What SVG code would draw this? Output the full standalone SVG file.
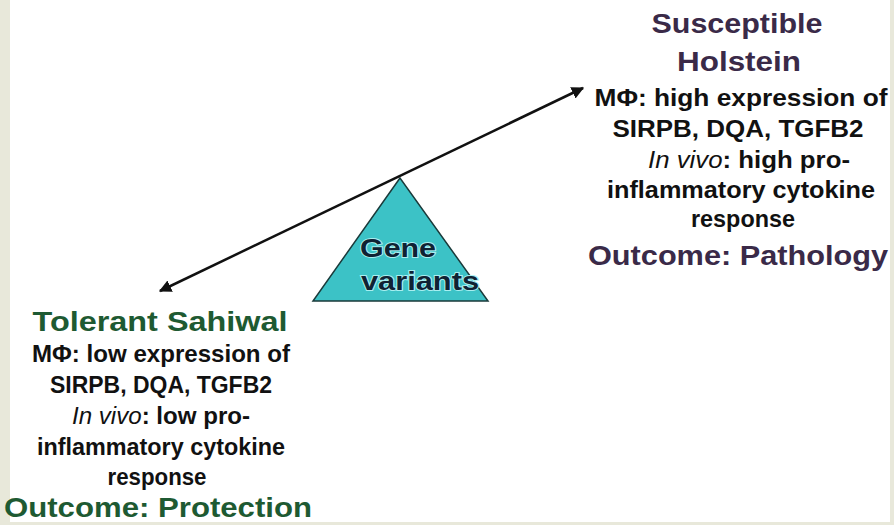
<svg xmlns="http://www.w3.org/2000/svg" width="894" height="525" viewBox="0 0 894 525">
<style>
text{font-family:"Liberation Sans",Arial,sans-serif;font-weight:bold;text-anchor:middle}
.t{font-size:27px}
.b{font-size:24px;fill:#111}
.r{fill:#3a2a48}
.g{fill:#1e5a32}
.gv{font-size:26px;fill:#0f2233;stroke:#a8eef0;stroke-width:2;paint-order:stroke}
.i{font-style:italic;font-weight:normal}
</style>
<defs>
<marker id="ah" viewBox="0 0 10 10" refX="9" refY="5" markerWidth="5" markerHeight="5" orient="auto-start-reverse">
<path d="M0,0 L10,5 L0,10 z" fill="#111"/>
</marker>
</defs>
<rect width="894" height="525" fill="#fff"/>
<rect x="0" y="0" width="10" height="525" fill="#e8e8da"/>
<rect x="890" y="0" width="4" height="525" fill="#e8e8da"/>
<rect x="0" y="522" width="894" height="3" fill="#e8e8da"/>
<g id="fulcrum">
<polygon points="400,178 313,301 488,301" fill="#3cc2c6" stroke="#1a3a3a" stroke-width="1.5"/>
<text class="gv" x="398" y="257" textLength="76" lengthAdjust="spacingAndGlyphs">Gene</text>
<text class="gv" x="420" y="290" textLength="118" lengthAdjust="spacingAndGlyphs">variants</text>
</g>
<g id="connectors">
<line x1="160" y1="291" x2="583" y2="88" stroke="#111" stroke-width="2.5" marker-start="url(#ah)" marker-end="url(#ah)"/>
</g>
<g id="holstein">
<text class="t r" x="737" y="33" textLength="171" lengthAdjust="spacingAndGlyphs">Susceptible</text>
<text class="t r" x="739" y="71" textLength="124" lengthAdjust="spacingAndGlyphs">Holstein</text>
<text class="b" x="741" y="106" textLength="293" lengthAdjust="spacingAndGlyphs">MΦ: high expression of</text>
<text class="b" x="738" y="137" textLength="251" lengthAdjust="spacingAndGlyphs">SIRPB, DQA, TGFB2</text>
<text class="b" x="749" y="168" textLength="202" lengthAdjust="spacingAndGlyphs"><tspan class="i">In vivo</tspan>: high pro-</text>
<text class="b" x="741" y="198" textLength="268" lengthAdjust="spacingAndGlyphs">inflammatory cytokine</text>
<text class="b" x="743" y="227" textLength="104" lengthAdjust="spacingAndGlyphs">response</text>
<text class="t r" x="738" y="265" textLength="300" lengthAdjust="spacingAndGlyphs">Outcome: Pathology</text>
</g>
<g id="sahiwal">
<text class="t g" x="160" y="331" textLength="255" lengthAdjust="spacingAndGlyphs">Tolerant Sahiwal</text>
<text class="b" x="161" y="362" textLength="258" lengthAdjust="spacingAndGlyphs">MΦ: low expression of</text>
<text class="b" x="161" y="393" textLength="222" lengthAdjust="spacingAndGlyphs">SIRPB, DQA, TGFB2</text>
<text class="b" x="161" y="424" textLength="178" lengthAdjust="spacingAndGlyphs"><tspan class="i">In vivo</tspan>: low pro-</text>
<text class="b" x="161" y="455" textLength="248" lengthAdjust="spacingAndGlyphs">inflammatory cytokine</text>
<text class="b" x="157" y="485" textLength="99" lengthAdjust="spacingAndGlyphs">response</text>
<text class="t g" x="158" y="517" textLength="308" lengthAdjust="spacingAndGlyphs">Outcome: Protection</text>
</g>
</svg>
